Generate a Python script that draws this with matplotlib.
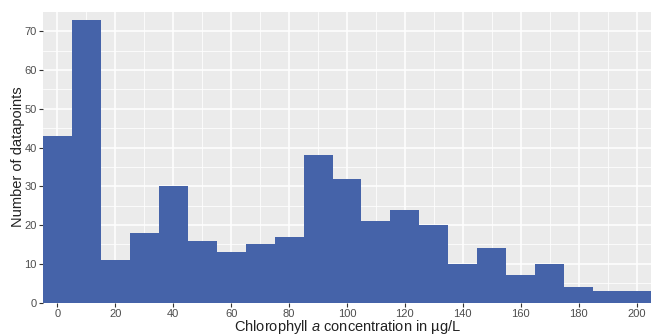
import matplotlib
matplotlib.use("Agg")
import matplotlib.pyplot as plt
import numpy as np

bin_centers = [0, 10, 20, 30, 40, 50, 60, 70, 80, 90, 100, 110, 120, 130, 140, 150, 160, 170, 180, 190, 200]
counts = [43, 73, 11, 18, 30, 16, 13, 15, 17, 38, 32, 21, 24, 20, 10, 14, 7, 10, 4, 3, 3]
x_ticks = [0, 20, 40, 60, 80, 100, 120, 140, 160, 180, 200]
y_ticks = [0, 10, 20, 30, 40, 50, 60, 70]

plt.rcParams['font.family'] = ['Liberation Sans', 'DejaVu Sans']
plt.rcParams['mathtext.fontset'] = 'custom'
plt.rcParams['mathtext.it'] = 'Liberation Sans:italic'
plt.rcParams['mathtext.rm'] = 'Liberation Sans'

fig = plt.figure(figsize=(6.54, 3.34), dpi=100)
ax = fig.add_axes([0.0657, 0.0943, 0.9297, 0.8697])
ax.set_facecolor('#EBEBEB')
ax.set_axisbelow(True)

ax.bar(bin_centers, counts, width=10, color='#4563A9', linewidth=0)

ax.set_xlim(-5, 205)
ax.set_ylim(0, 75)
ax.set_xticks(x_ticks)
ax.set_yticks(y_ticks)
ax.set_xticks(np.arange(10, 200, 20), minor=True)
ax.set_yticks(np.arange(5, 75, 10), minor=True)
ax.grid(which='major', color='white', linewidth=1.1)
ax.grid(which='minor', color='white', linewidth=0.55)
ax.tick_params(which='minor', length=0)
ax.tick_params(which='major', length=3, color='#333333', labelsize=8, labelcolor='#4D4D4D', pad=1.5)
for s in ax.spines.values():
    s.set_visible(False)

fig.text(0.531, (334 - 330.5) / 334, 'Chlorophyll $\\it{a}$ concentration in µg/L',
         fontsize=10.5, color='#222222', ha='center', va='baseline')
fig.text(18 / 654, 1 - 157 / 334, 'Number of datapoints', fontsize=10.5, color='#222222',
         ha='center', va='center', rotation=90)

fig.savefig('out.png', dpi=100)
